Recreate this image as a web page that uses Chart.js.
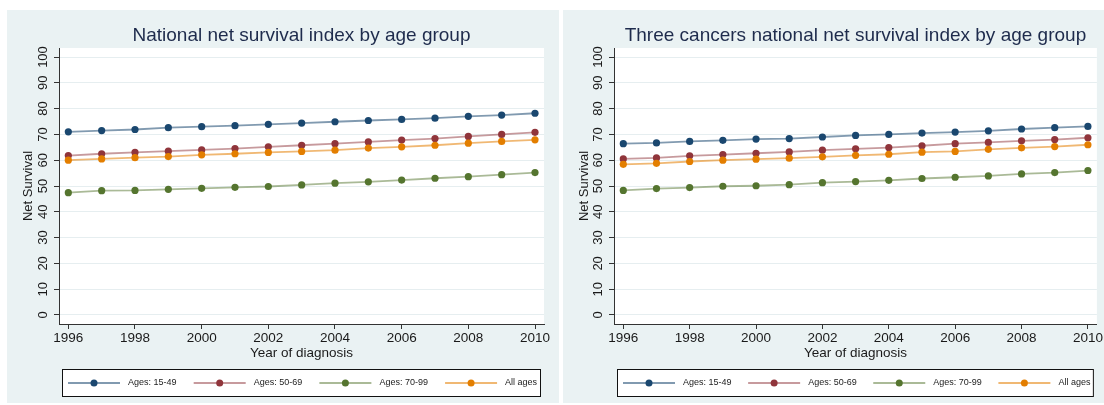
<!DOCTYPE html>
<html>
<head>
<meta charset="utf-8">
<script src="https://cdn.jsdelivr.net/npm/chart.js@4/dist/chart.umd.min.js"></script>
<style>
  html, body { margin: 0; padding: 0; background: #ffffff; width: 1104px; height: 405px; overflow: hidden; }
  .panel { position: absolute; top: 10px; height: 393px; background: #eaf2f3; }
  #p1 { left: 7px; width: 552px; }
  #p2 { left: 563px; width: 541px; }
  canvas { display: block; }
</style>
</head>
<body>
<div class="panel" id="p1"><canvas id="c1" width="552" height="393"></canvas></div>
<div class="panel" id="p2"><canvas id="c2" width="541" height="393"></canvas></div>
<script>
// Years of diagnosis and axis ticks
const years = [1996, 1997, 1998, 1999, 2000, 2001, 2002, 2003, 2004, 2005, 2006, 2007, 2008, 2009, 2010];
const xTicks = [1996, 1998, 2000, 2002, 2004, 2006, 2008, 2010];
const yTicks = [0, 10, 20, 30, 40, 50, 60, 70, 80, 90, 100];

// Series labels
const seriesLabels = ['Ages: 15-49', 'Ages: 50-69', 'Ages: 70-99', 'All ages'];

// National net survival index (%)
const national1549 = [71.0, 71.5, 71.9, 72.6, 73.0, 73.4, 73.9, 74.4, 74.9, 75.4, 75.8, 76.3, 77.0, 77.5, 78.2];
const national5069 = [61.8, 62.5, 63.0, 63.5, 64.0, 64.5, 65.2, 65.8, 66.4, 67.1, 67.8, 68.4, 69.2, 70.0, 70.8];
const national7099 = [47.4, 48.2, 48.3, 48.7, 49.1, 49.5, 49.8, 50.4, 51.1, 51.6, 52.3, 53.0, 53.6, 54.4, 55.2];
const nationalAll  = [60.0, 60.5, 61.0, 61.4, 62.1, 62.5, 63.0, 63.4, 63.9, 64.7, 65.2, 65.8, 66.6, 67.3, 67.9];

// Three cancers national net survival index (%)
const three1549 = [66.4, 66.7, 67.3, 67.7, 68.2, 68.4, 69.0, 69.6, 70.0, 70.5, 70.9, 71.4, 72.1, 72.6, 73.1];
const three5069 = [60.5, 60.9, 61.7, 62.2, 62.7, 63.2, 63.9, 64.4, 64.9, 65.6, 66.4, 66.9, 67.5, 68.0, 68.7];
const three7099 = [48.3, 49.0, 49.4, 49.9, 50.1, 50.5, 51.3, 51.7, 52.2, 52.9, 53.4, 53.9, 54.7, 55.2, 56.0];
const threeAll  = [58.4, 58.8, 59.5, 60.0, 60.4, 60.8, 61.3, 61.9, 62.3, 63.1, 63.4, 64.2, 64.8, 65.3, 66.0];

const FONT = '"Liberation Sans", Arial, Helvetica, sans-serif';
const markerColors = ['#1a476f', '#90353b', '#55752f', '#e37e00'];
const lineColors = ['rgba(26,71,111,0.55)', 'rgba(144,53,59,0.5)', 'rgba(85,117,47,0.5)', 'rgba(227,126,0,0.55)'];
const drawOrder = [3, 2, 1, 0];

// White plotting region on the tinted panel
const plotBackground = {
  id: 'plotBackground',
  beforeDraw(chart) {
    const { ctx, chartArea: a } = chart;
    ctx.save();
    ctx.fillStyle = '#ffffff';
    ctx.fillRect(a.left, a.top, a.right - a.left, a.bottom - a.top);
    ctx.restore();
  }
};

// Title centred over the plotting region
const panelTitle = {
  id: 'panelTitle',
  afterDraw(chart, args, opts) {
    const { ctx, chartArea: a } = chart;
    ctx.save();
    ctx.font = '19px ' + FONT;
    ctx.fillStyle = '#1e2b4c';
    ctx.textAlign = 'center';
    ctx.textBaseline = 'middle';
    ctx.fillText(opts.text, (a.left + a.right) / 2, opts.y);
    ctx.restore();
  }
};

// Boxed legend with line-and-marker keys
const boxedLegend = {
  id: 'boxedLegend',
  afterDraw(chart, args, opts) {
    const { ctx, chartArea: a } = chart;
    const left = a.left + 3, right = a.right - 3;
    const top = opts.top, h = opts.height;
    const w = right - left;
    ctx.save();
    ctx.fillStyle = '#ffffff';
    ctx.fillRect(left, top, w, h);
    ctx.strokeStyle = '#111111';
    ctx.lineWidth = 1;
    ctx.strokeRect(left + 0.5, top + 0.5, w - 1, h - 1);
    const step = w * 0.2624;
    const cy = top + h / 2;
    chart.data.datasets.forEach((ds, i) => {
      const x0 = left + 6 + i * step;
      const len = 52;
      ctx.strokeStyle = ds.borderColor;
      ctx.lineWidth = 2;
      ctx.beginPath();
      ctx.moveTo(x0, cy);
      ctx.lineTo(x0 + len, cy);
      ctx.stroke();
      ctx.fillStyle = ds.pointBackgroundColor;
      ctx.beginPath();
      ctx.arc(x0 + len / 2, cy, 3.5, 0, Math.PI * 2);
      ctx.fill();
      ctx.fillStyle = '#222222';
      ctx.font = '9px ' + FONT;
      ctx.textAlign = 'left';
      ctx.textBaseline = 'middle';
      ctx.fillText(ds.label, x0 + len + 8, cy);
    });
    ctx.restore();
  }
};

function buildDatasets(seriesList) {
  return seriesList.map((values, i) => ({
    label: seriesLabels[i],
    data: years.map((yr, k) => ({ x: yr, y: values[k] })),
    borderColor: lineColors[i],
    borderWidth: 1.8,
    pointBackgroundColor: markerColors[i],
    pointBorderWidth: 0,
    pointRadius: 3.6,
    tension: 0,
    order: drawOrder[i]
  }));
}

function makeChart(canvasId, titleText, seriesList, yAxisWidth, rightPad) {
  return new Chart(document.getElementById(canvasId), {
    type: 'line',
    data: { datasets: buildDatasets(seriesList) },
    plugins: [plotBackground, panelTitle, boxedLegend],
    options: {
      responsive: false,
      animation: false,
      devicePixelRatio: 1,
      layout: { padding: { left: 0, right: rightPad, top: 38, bottom: 39 } },
      plugins: {
        legend: { display: false },
        tooltip: { enabled: false },
        panelTitle: { text: titleText, y: 26 },
        boxedLegend: { top: 359, height: 28 }
      },
      scales: {
        x: {
          type: 'linear',
          min: 1995.72,
          max: 2010.27,
          afterBuildTicks: s => { s.ticks = xTicks.map(v => ({ value: v })); },
          afterFit: s => { s.height = 40; },
          border: { color: '#333333', width: 1 },
          grid: { drawOnChartArea: false, tickColor: '#333333', tickLength: 5 },
          ticks: {
            minRotation: 0, maxRotation: 0, padding: 1,
            color: '#1a1a1a', font: { size: 13.5, family: FONT },
            callback: v => String(v)
          },
          title: {
            display: true, text: 'Year of diagnosis', color: '#1a1a1a',
            font: { size: 13.5, family: FONT }, padding: { top: 0, bottom: 3 }
          }
        },
        y: {
          min: -3.5,
          max: 103.5,
          afterBuildTicks: s => { s.ticks = yTicks.map(v => ({ value: v })); },
          afterFit: s => { s.width = yAxisWidth; },
          border: { color: '#333333', width: 1 },
          grid: { color: '#e6eef0', lineWidth: 1, tickColor: '#333333', tickLength: 5 },
          ticks: {
            minRotation: 90, maxRotation: 90, crossAlign: 'center', padding: 0,
            color: '#1a1a1a', font: { size: 13, family: FONT },
            callback: v => String(v)
          },
          title: {
            display: true, text: 'Net Survival', color: '#1a1a1a',
            font: { size: 13, family: FONT }, padding: { top: 14, bottom: 0 }
          }
        }
      }
    }
  });
}

makeChart('c1', 'National net survival index by age group',
  [national1549, national5069, national7099, nationalAll], 52, 15);
makeChart('c2', 'Three cancers national net survival index by age group',
  [three1549, three5069, three7099, threeAll], 51, 4);
</script>
</body>
</html>
